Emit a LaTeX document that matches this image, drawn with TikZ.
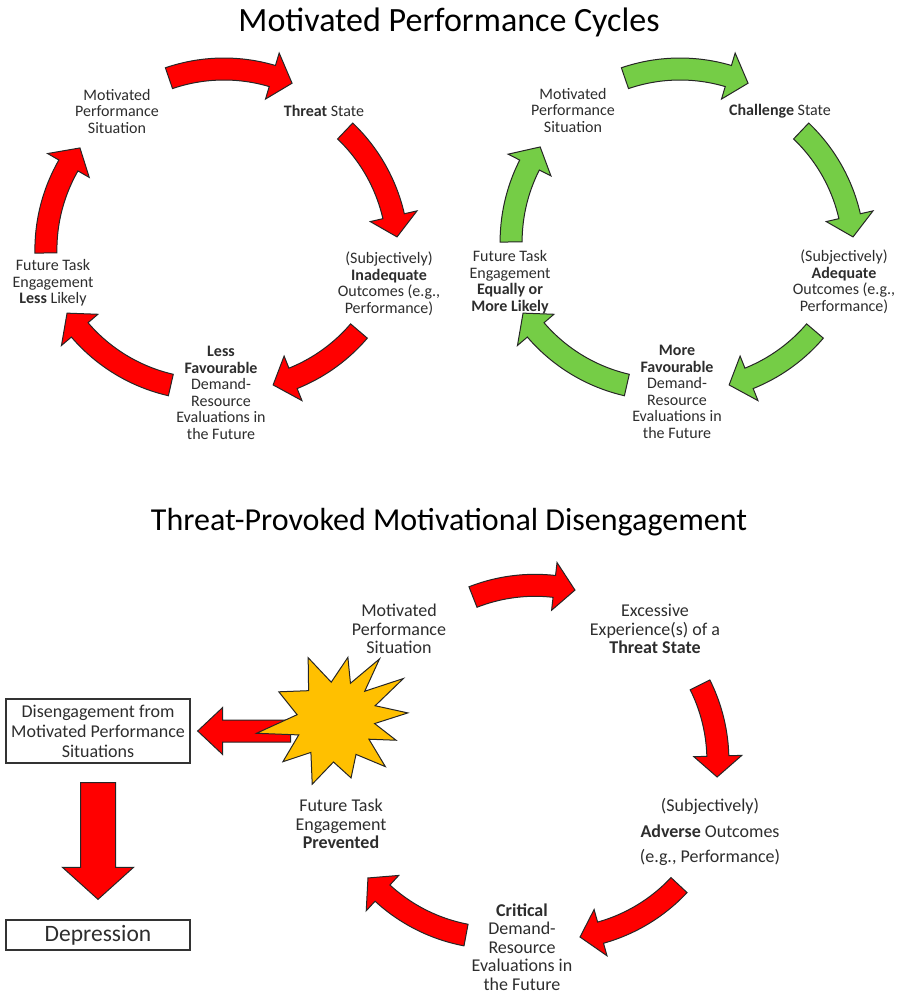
\documentclass[tikz,border=0pt]{standalone}
\usepackage{fontspec}
\setmainfont{Carlito}
\usetikzlibrary{calc}
\definecolor{arrowred}{RGB}{255,0,0}
\definecolor{arrowgreen}{RGB}{117,205,70}
\definecolor{burstgold}{RGB}{255,192,0}
\definecolor{txtgray}{RGB}{45,45,45}
\newcommand{\bandw}{11}
\newcommand{\headw}{24}
\newcommand{\headlen}{21}
% curved block arrow: centre x, centre y, radius, start angle, end angle, fill
\newcommand{\cyclearrow}[6]{%
  \pgfmathsetmacro{\hb}{#5-\headlen/#3*180/pi}%
  \filldraw[arrowshape, fill=#6]
    plot[domain=0:1, samples=25] ({#1+(#3+\bandw)*cos(#4+(\hb-#4)*\x)}, {#2+(#3+\bandw)*sin(#4+(\hb-#4)*\x)})
    -- ({#1+(#3+\headw)*cos(\hb)}, {#2+(#3+\headw)*sin(\hb)})
    -- ({#1+#3*cos(#5)}, {#2+#3*sin(#5)})
    -- ({#1+(#3-\headw)*cos(\hb)}, {#2+(#3-\headw)*sin(\hb)})
    -- plot[domain=0:1, samples=25] ({#1+(#3-\bandw)*cos(\hb+(#4-\hb)*\x)}, {#2+(#3-\bandw)*sin(\hb+(#4-\hb)*\x)})
    -- cycle;}

\begin{document}
\begin{tikzpicture}[
  x=1pt, y=-1pt,
  arrowshape/.style={draw=black!85, line width=1pt, line join=miter},
  lbl/.style={align=center, text=txtgray, inner sep=0pt, font=\fontsize{16}{16.5}\selectfont},
  lblb/.style={align=center, text=txtgray, inner sep=0pt, font=\fontsize{18}{18.5}\selectfont},
  title/.style={text=black, inner sep=0pt, font=\fontsize{34}{36}\selectfont},
  box/.style={draw=black!80, line width=1.3pt, minimum width=184, inner sep=0pt, align=center, text=txtgray}
]
  \useasboundingbox (0,0) rectangle (898,994);

  % Titles
  \node[title] (titletop) at (449,22) {Motivated Performance Cycles};
  \node[title, font=\fontsize{32}{34}\selectfont] (titlebot) at (449,522) {Threat-Provoked Motivational Disengagement};

  % Threat cycle
  \foreach \cx/\cy/\a/\b in {224/239/-108.9/-66.4, 227.9/254.1/-46.4/-5.8, 229.7/220.6/40.5/75.2,
      208.8/219.3/102.9/146.5, 215.9/250/179/216.9}
    \cyclearrow{\cx}{\cy}{170}{\a}{\b}{arrowred};

  \node[lbl] (sitL) at (117,111) {Motivated\\Performance\\Situation};
  \node[lbl] (thrL) at (324,111) {\textbf{Threat} State};
  \node[lbl] (outL) at (389,284) {(Subjectively)\\\textbf{Inadequate}\\Outcomes (e.g.,\\Performance)};
  \node[lbl] (favL) at (221,393) {\textbf{Less}\\\textbf{Favourable}\\Demand-\\Resource\\Evaluations in\\the Future};
  \node[lbl] (futL) at (53,283) {Future Task\\Engagement\\\textbf{Less} Likely};

  % Challenge cycle
  \begin{scope}[xshift=456]
    \foreach \cx/\cy/\a/\b in {224/239/-108.9/-66.4, 227.9/254.1/-46.4/-5.8, 229.7/220.6/40.5/75.2,
        208.8/219.3/102.9/146.5, 225.1/242/180/214}
      \cyclearrow{\cx}{\cy}{170}{\a}{\b}{arrowgreen};
  \end{scope}

  \node[lbl] (sitR) at (573,110) {Motivated\\Performance\\Situation};
  \node[lbl] (chaR) at (780,111) {\textbf{Challenge} State};
  \node[lbl] (outR) at (844,282) {(Subjectively)\\\textbf{Adequate}\\Outcomes (e.g.,\\Performance)};
  \node[lbl] (favR) at (677,392) {\textbf{More}\\\textbf{Favourable}\\Demand-\\Resource\\Evaluations in\\the Future};
  \node[lbl] (futR) at (510,282) {Future Task\\Engagement\\\textbf{Equally or}\\\textbf{More Likely}};

  % Disengagement cycle
  \foreach \cx/\cy/\a/\b in {535/755.3/-111.4/-76.4, 547.9/760.7/-26.5/5.5, 554.9/768.9/43.1/81.5,
      497.6/768/100.7/139.7}
    \cyclearrow{\cx}{\cy}{170}{\a}{\b}{arrowred};

  \node[lblb] (sitB) at (399,629) {Motivated\\Performance\\Situation};
  \node[lblb] (excB) at (655,629) {Excessive\\Experience(s) of a\\\textbf{Threat State}};
  \node[lblb, font=\fontsize{18}{25.5}\selectfont] (advB) at (710,832) {(Subjectively)\\\textbf{Adverse} Outcomes\\(e.g., Performance)};
  \node[lblb] (criB) at (522,947) {\textbf{Critical}\\Demand-\\Resource\\Evaluations in\\the Future};
  \node[lblb] (preB) at (341,824) {Future Task\\Engagement\\\textbf{Prevented}};

  \node[box, minimum height=64, font=\fontsize{18}{20}\selectfont] (disbox) at (98,731)
    {Disengagement from\\Motivated Performance\\Situations};
  \node[box, minimum height=30, font=\fontsize{23.5}{25}\selectfont] (depbox) at (98,935) {Depression};

  % block arrows out of the cycle
  \filldraw[arrowshape, fill=arrowred]
    ($(disbox.east)+(100,-11)$) -- ($(disbox.east)+(32,-11)$) -- ($(disbox.east)+(32,-23.5)$)
    -- ($(disbox.east)+(7,0)$) -- ($(disbox.east)+(32,23.5)$) -- ($(disbox.east)+(32,11)$)
    -- ($(disbox.east)+(100,11)$) -- cycle;
  \filldraw[arrowshape, fill=arrowred]
    ($(disbox.south)+(-17.5,19)$) -- ($(disbox.south)+(17.5,19)$) -- ($(depbox.north)+(17.5,-52)$)
    -- ($(depbox.north)+(35.5,-52)$) -- ($(depbox.north)+(0,-20)$) -- ($(depbox.north)+(-35.5,-52)$)
    -- ($(depbox.north)+(-17.5,-52)$) -- cycle;

  % starburst
  \coordinate (burst) at (335,718);
  \filldraw[arrowshape, fill=burstgold] ($(burst)+(-114:66)$)
    \foreach \a/\r in {-96/36, -78/62, -66/38, -53/74, -42/40, -30/79, -17/42, -4/73, 8/40, 20/65,
        32/40, 44/70, 60/42, 75/62, 92/44, 109/70, 125/42, 140/68, 155/40, 169/80, 185/38, 205/62, 226/38}
      { -- ($(burst)+(\a:\r)$) } -- cycle;
\end{tikzpicture}
\end{document}
